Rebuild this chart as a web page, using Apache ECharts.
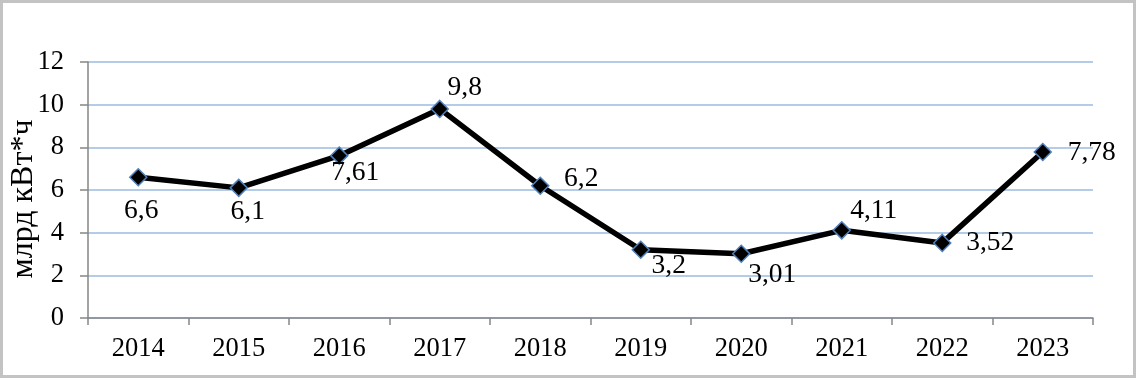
<!DOCTYPE html>
<html>
<head>
<meta charset="utf-8">
<script src="https://cdn.jsdelivr.net/npm/echarts@6/dist/echarts.min.js"></script>
<style>
html,body{margin:0;padding:0;background:#fff;}
#c{width:1137px;height:380px;}
</style>
</head>
<body>
<div id="c"></div>
<script>
const categories = ['2014','2015','2016','2017','2018','2019','2020','2021','2022','2023'];
const values = [6.6, 6.1, 7.61, 9.8, 6.2, 3.2, 3.01, 4.11, 3.52, 7.78];
const valueLabels = ['6,6','6,1','7,61','9,8','6,2','3,2','3,01','4,11','3,52','7,78'];
const yTicks = [0, 2, 4, 6, 8, 10, 12];
const yAxisTitle = 'млрд кВт*ч';

// label offsets (styling, relative to the marker centre)
const labelOffsets = [[3,34],[9,24],[16,17],[25,-21],[41,-7],[28,16],[31,21],[32,-20],[48,0],[49,1]];

const font = '"Liberation Serif", "Times New Roman", serif';
const chart = echarts.init(document.getElementById('c'), null, {renderer:'canvas'});
chart.setOption({
  animation: false,
  backgroundColor: '#fff',
  graphic: [{
    type: 'rect',
    shape: {x: 1.5, y: 1.5, width: 1133, height: 375},
    style: {fill: 'none', stroke: '#c3c3c3', lineWidth: 3},
    silent: true
  }],
  grid: {left: 88, right: 44, top: 62, bottom: 62, containLabel: false, outerBoundsMode: 'none'},
  xAxis: {
    type: 'category',
    data: categories,
    boundaryGap: true,
    axisLine: {lineStyle: {color: '#868686', width: 1.5}},
    axisTick: {show: true, length: 7, lineStyle: {color: '#868686', width: 1.5}},
    axisLabel: {fontFamily: font, fontSize: 26.5, color: '#000', margin: 18}
  },
  yAxis: {
    type: 'value',
    min: yTicks[0],
    max: yTicks[yTicks.length - 1],
    interval: 2,
    name: yAxisTitle,
    nameLocation: 'middle',
    nameGap: 48,
    nameMoveOverlap: false,
    nameRotate: 90,
    nameTextStyle: {fontFamily: font, fontSize: 32, color: '#000', padding: [0, 18, 0, 0]},
    axisLine: {show: true, lineStyle: {color: '#868686', width: 1.5}},
    axisTick: {show: true, length: 8, lineStyle: {color: '#868686', width: 1.5}},
    axisLabel: {fontFamily: font, fontSize: 26.5, color: '#000', margin: 24},
    splitLine: {show: true, lineStyle: {color: '#9dbbe0', width: 1.5}}
  },
  series: [{
    type: 'line',
    data: values.map((v, i) => ({
      value: v,
      label: {offset: labelOffsets[i]}
    })),
    lineStyle: {color: '#000', width: 5.5},
    symbol: 'diamond',
    symbolSize: 17,
    itemStyle: {color: '#000', borderColor: '#4f81bd', borderWidth: 1.5},
    z: 3,
    label: {
      show: true,
      position: 'inside',
      align: 'center',
      verticalAlign: 'middle',
      fontFamily: font,
      fontSize: 27.5,
      color: '#000',
      formatter: p => valueLabels[p.dataIndex]
    }
  }]
});
</script>
</body>
</html>
